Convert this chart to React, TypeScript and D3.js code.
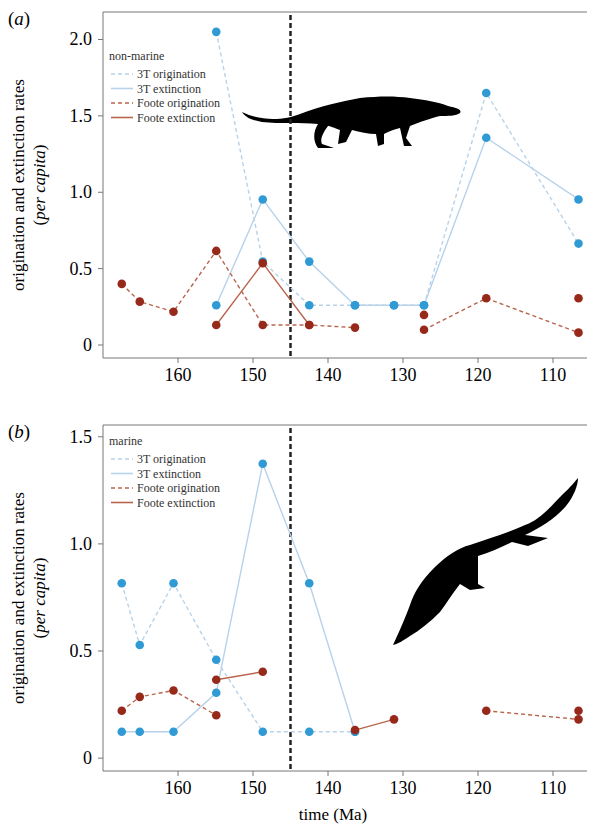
import React from 'react'
import * as d3 from 'd3'

const times = [167.5, 165.1, 160.6, 154.9, 148.7, 142.5, 136.4, 131.2, 127.2, 118.9, 106.6]

// panel (a) non-marine
const aOrig3T = [null, null, null, 2.05, 0.546, 0.26, 0.26, 0.26, 0.26, 1.65, 0.664]
const aExt3T = [null, null, null, 0.26, 0.953, 0.546, 0.26, 0.26, 0.26, 1.357, 0.953]
const aOrigFoote = [0.40, 0.284, 0.218, 0.616, 0.131, 0.131, 0.114, null, 0.10, 0.306, 0.081]
const aExtFoote = [null, null, null, 0.131, 0.536, 0.131, null, null, 0.197, null, 0.306]

// panel (b) marine
const bOrig3T = [0.816, 0.528, 0.816, 0.459, 0.123, 0.123, 0.123, null, null, null, null]
const bExt3T = [0.123, 0.123, 0.123, 0.305, 1.374, 0.816, 0.123, null, null, null, null]
const bOrigFoote = [0.221, 0.286, 0.316, 0.2, null, null, null, null, null, 0.221, 0.181]
const bExtFoote = [null, null, null, 0.366, 0.403, null, 0.131, 0.181, null, null, 0.221]

const xTicks = [160, 150, 140, 130, 120, 110]
const aTicks = [0, 0.5, 1.0, 1.5, 2.0]
const bTicks = [0, 0.5, 1.0, 1.5]
const legendLabels = ['3T origination', '3T extinction', 'Foote origination', 'Foote extinction']

const BLUE_PT = '#2f9ad4'
const BLUE_LN = '#b7d2ea'
const RED_PT = '#97291b'
const RED_LN = '#b9654d'
const FONT = '"Liberation Serif", "DejaVu Serif", serif'

const x = d3.scaleLinear().domain([170, 104.4]).range([103, 595])
const fmt = (d: number) => d === 0 ? '0' : d3.format('.1f')(d)

type Series = (number | null)[]

function Panel({ top, bottom, yDomain, ticks, letter, title, legendY, series, animal }: {
  top: number; bottom: number; yDomain: [number, number]; ticks: number[]; letter: string;
  title: string; legendY: number; series: Series[]; animal: React.ReactNode
}) {
  const y = d3.scaleLinear().domain(yDomain).range([bottom, top])
  const styles = [
    { stroke: BLUE_LN, dash: '4,3', pt: BLUE_PT },
    { stroke: BLUE_LN, dash: undefined, pt: BLUE_PT },
    { stroke: RED_LN, dash: '4,3', pt: RED_PT },
    { stroke: RED_LN, dash: undefined, pt: RED_PT },
  ]
  const line = d3.line<number | null>()
    .defined(d => d !== null)
    .x((_, i) => x(times[i]))
    .y(d => y(d as number))
  const midY = (top + bottom) / 2
  return (
    <g fontFamily={FONT}>
      <text x={8} y={top + 13} fontSize={19}>(<tspan fontStyle="italic">{letter}</tspan>)</text>
      <text transform={`translate(24,${midY}) rotate(-90)`} textAnchor="middle" fontSize={17}>origination and extinction rates</text>
      <text transform={`translate(45,${midY}) rotate(-90)`} textAnchor="middle" fontSize={17}>(<tspan fontStyle="italic">per capita</tspan>)</text>
      {animal}
      <line x1={x(145)} x2={x(145)} y1={top + 3} y2={bottom} stroke="#222" strokeWidth={2.5} strokeDasharray="5,3" />
      {series.map((s, k) => (
        <path key={'l' + k} d={line(s) || ''} fill="none" stroke={styles[k].stroke} strokeWidth={1.4} strokeDasharray={styles[k].dash} />
      ))}
      {series.map((s, k) => s.map((v, i) => v === null ? null : (
        <circle key={`p${k}-${i}`} cx={x(times[i])} cy={y(v)} r={4.3} fill={styles[k].pt} />
      )))}
      <path d={`M595,${top}H103V${bottom}H595`} fill="none" stroke="#777" strokeWidth={1} />
      {ticks.map(t => (
        <g key={t}>
          <line x1={98} x2={103} y1={y(t)} y2={y(t)} stroke="#777" />
          <text x={92} y={y(t) + 6} textAnchor="end" fontSize={18}>{fmt(t)}</text>
        </g>
      ))}
      {xTicks.map(t => (
        <g key={t}>
          <line x1={x(t)} x2={x(t)} y1={bottom} y2={bottom + 5} stroke="#777" />
          <text x={x(t)} y={bottom + 23} textAnchor="middle" fontSize={18}>{t}</text>
        </g>
      ))}
      <g transform={`translate(111,${legendY})`} fontSize={12} fill="#333">
        <text x={-2} y={0}>{title}</text>
        {legendLabels.map((l, i) => (
          <g key={l} transform={`translate(0,${18 + i * 14.5})`}>
            <line x1={0} x2={22} y1={-4} y2={-4} stroke={styles[i].stroke} strokeWidth={1.6} strokeDasharray={styles[i].dash} />
            <text x={26} y={0}>{l}</text>
          </g>
        ))}
      </g>
    </g>
  )
}

const lizard = (
  <path fill="#000" d="M242,112 C262,122 285,120 300,114 C320,106 340,102 360,98 C380,96 395,96 410,98 C425,100 438,102 448,106 C458,108 462,110 460,113 C456,116 448,116 440,116 C432,118 420,122 410,126 L406,138 L412,146 L404,146 L400,128 C392,130 388,132 384,134 L384,144 L378,146 L376,134 C368,134 360,132 352,130 L346,142 L338,144 L340,130 C334,128 330,126 328,126 C322,134 320,140 322,144 L334,148 L318,148 C312,140 314,130 318,124 C300,122 280,124 262,122 C252,120 246,118 242,112 Z" />
)

const croc = (
  <path fill="#000" d="M393,645 C400,630 406,616 410,605 C414,592 422,580 434,568 C446,556 458,548 470,545 C490,538 510,532 525,525 C540,520 552,505 562,495 C570,488 576,480 578,478 C578,485 574,496 566,506 C556,518 540,528 525,535 L548,538 L528,546 L512,542 C500,548 490,552 478,556 L478,584 L485,588 L470,590 L460,584 C452,594 446,604 440,612 C430,622 420,630 410,636 C404,640 398,644 393,645 Z" />
)

export default function App() {
  return (
    <svg width={587} height={820} style={{ display: 'block' }}>
      <g transform="translate(-8,-8)">
        <Panel top={12} bottom={358} yDomain={[-0.085, 2.18]} ticks={aTicks} letter="a" title="non-marine" legendY={60}
          series={[aOrig3T, aExt3T, aOrigFoote, aExtFoote]} animal={lizard} />
        <Panel top={425} bottom={771} yDomain={[-0.06, 1.555]} ticks={bTicks} letter="b" title="marine" legendY={445}
          series={[bOrig3T, bExt3T, bOrigFoote, bExtFoote]} animal={croc} />
        <text x={333} y={820} textAnchor="middle" fontSize={17} fontFamily={FONT}>time (Ma)</text>
      </g>
    </svg>
  )
}
